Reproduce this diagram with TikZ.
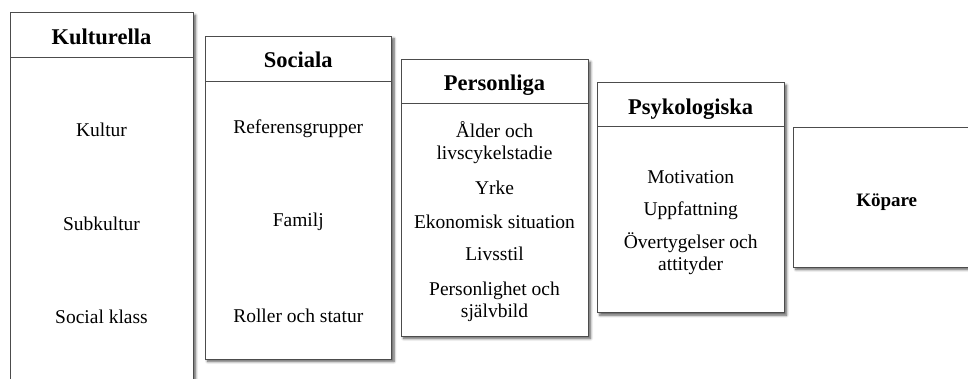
\documentclass[tikz,border=0pt]{standalone}
\usepackage{fontspec}
\setmainfont{Liberation Serif}
\usetikzlibrary{shadows.blur}
\tikzset{
  panel/.style={draw=black!70, line width=1pt, fill=white, inner sep=0pt,
    outer sep=0pt, anchor=north west,
    blur shadow={shadow xshift=2.5pt, shadow yshift=-2.5pt,
      shadow blur steps=6, shadow blur radius=2.5pt, shadow opacity=65}},
  head/.style={font=\fontsize{22.5}{26}\selectfont\bfseries, anchor=base, inner sep=0pt},
  item/.style={font=\fontsize{19.5}{22}\selectfont, anchor=base, inner sep=0pt, align=center},
  rule/.style={draw=black!70, line width=1pt}
}
\begin{document}
\begin{tikzpicture}[x={(1pt,0pt)}, y={(0pt,-1pt)}]
\useasboundingbox (0,0) rectangle (968,378);
\clip (0,0) rectangle (968,378);

% the five panels, stepped from left to right
\node[panel, minimum width=183pt,   minimum height=400pt]   (kult) at (10,12.7) {};
\node[panel, minimum width=186.5pt, minimum height=323pt]   (soc)  at (205,36) {};
\node[panel, minimum width=187pt,   minimum height=276.5pt] (pers) at (401,59.5) {};
\node[panel, minimum width=186.7pt, minimum height=230pt]   (psy)  at (597.3,82.7) {};
\node[panel, minimum width=190pt,   minimum height=139.3pt] (kop)  at (793.3,127.7) {};

% header rules
\draw[rule] (kult.west |- 0,57)    -- (kult.east |- 0,57);
\draw[rule] (soc.west  |- 0,81)    -- (soc.east  |- 0,81);
\draw[rule] (pers.west |- 0,103.3) -- (pers.east |- 0,103.3);
\draw[rule] (psy.west  |- 0,126.7) -- (psy.east  |- 0,126.7);

% headers
\node[head] (hkult) at (kult.north |- 0,44.3) {Kulturella};
\node[head] (hsoc)  at (soc.north  |- 0,67.7) {Sociala};
\node[head] (hpers) at (pers.north |- 0,90.7) {Personliga};
\node[head] (hpsy)  at (psy.north  |- 0,114)  {Psykologiska};
\node[head, font=\fontsize{19}{22}\selectfont\bfseries] (hkop) at (886.7,206.5) {Köpare};

% Kulturella
\node[item] (k1) at (kult.north |- 0,136)   {Kultur};
\node[item] (k2) at (kult.north |- 0,230)   {Subkultur};
\node[item] (k3) at (kult.north |- 0,323.3) {Social klass};

% Sociala
\node[item] (s1) at (soc.north |- 0,133.3) {Referensgrupper};
\node[item] (s2) at (soc.north |- 0,226.5) {Familj};
\node[item] (s3) at (soc.north |- 0,322.3) {Roller och statur};

% Personliga (two-line items sit on the baseline of their last line)
\node[item] (p1) at (pers.north |- 0,159.5) {Ålder och\\livscykelstadie};
\node[item] (p2) at (pers.north |- 0,194)   {Yrke};
\node[item] (p3) at (pers.north |- 0,228.7) {Ekonomisk situation};
\node[item] (p4) at (pers.north |- 0,260.7) {Livsstil};
\node[item] (p5) at (pers.north |- 0,317.3) {Personlighet och\\självbild};

% Psykologiska
\node[item] (q1) at (psy.north |- 0,183.3) {Motivation};
\node[item] (q2) at (psy.north |- 0,215)   {Uppfattning};
\node[item] (q3) at (psy.north |- 0,270)   {Övertygelser och\\attityder};
\end{tikzpicture}
\end{document}
